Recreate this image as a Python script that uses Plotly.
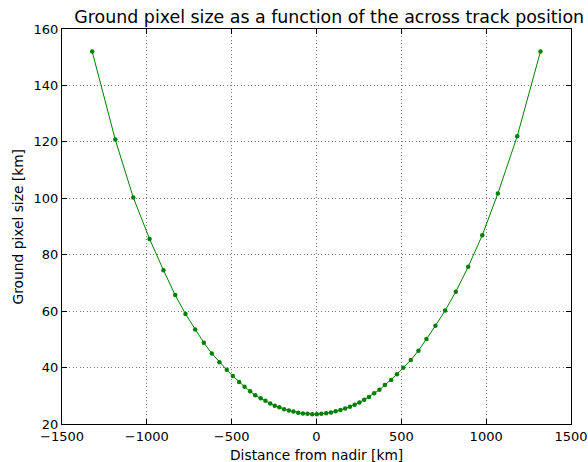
import plotly.graph_objects as go

# Across-track distance from nadir [km]
distance_km = [-1322, -1186, -1080, -984, -902, -833, -772, -715, -664, -617,
               -572, -529, -493, -456, -424, -391, -361, -329, -301, -273,
               -246, -219, -191, -163, -136, -108, -80, -53, -25, 2,
               29, 57, 85, 113, 141, 169, 197, 225, 253, 281,
               309, 340, 371, 403, 440, 474, 511, 556, 601, 648,
               701, 758, 821, 894, 977, 1069, 1183, 1320]

# Ground pixel size [km]
pixel_size_km = [152.0, 120.8, 100.3, 85.6, 74.5, 65.7, 59.0, 53.5, 48.8, 45.0,
                 41.9, 39.2, 37.0, 34.9, 33.2, 31.6, 30.2, 29.1, 28.2, 27.3,
                 26.5, 25.9, 25.25, 24.8, 24.4, 24.0, 23.75, 23.6, 23.5, 23.5,
                 23.6, 23.8, 24.1, 24.5, 24.95, 25.45, 26.15, 26.8, 27.65, 28.6,
                 29.55, 30.9, 32.1, 33.8, 35.6, 37.6, 39.9, 42.7, 46.0, 50.1,
                 54.8, 60.2, 66.9, 75.7, 86.9, 101.7, 122.0, 152.0]

x_ticks = [-1500, -1000, -500, 0, 500, 1000, 1500]
y_ticks = [20, 40, 60, 80, 100, 120, 140, 160]

title_text = "Ground pixel size as a function of the across track position"
x_label = "Distance from nadir [km]"
y_label = "Ground pixel size [km]"

FONT = "DejaVu Sans"
TICK_SIZE = 13
LABEL_SIZE = 13.8
TITLE_SIZE = 17.4

fig = go.Figure()
fig.add_trace(go.Scatter(
    x=distance_km, y=pixel_size_km, mode="lines+markers",
    line=dict(color="#008000", width=1),
    marker=dict(color="#008000", size=4.5, line=dict(width=0)),
    showlegend=False,
))

axis_common = dict(
    showline=True, linecolor="black", linewidth=1, mirror="allticks",
    ticks="inside", ticklen=5, tickwidth=1, tickcolor="black",
    showgrid=True, gridcolor="#777777", griddash="1px,2.5px", gridwidth=1,
    zeroline=False, tickfont=dict(family=FONT, size=TICK_SIZE, color="black"),
)

fig.update_xaxes(range=[-1500, 1500], tickvals=x_ticks,
                 ticktext=[str(v).replace("-", "\u2212") for v in x_ticks],
                 **axis_common)
fig.update_yaxes(range=[20, 160], tickvals=y_ticks,
                 ticktext=[str(v) for v in y_ticks], **axis_common)

fig.update_layout(
    width=588, height=462,
    margin=dict(l=62, r=17, t=29, b=38, autoexpand=False),
    paper_bgcolor="white", plot_bgcolor="white",
    font=dict(family=FONT, color="black"),
    title=dict(text=title_text, x=0.525, xref="paper", xanchor="center",
               y=1 - 17 / 462, yref="container", yanchor="middle",
               font=dict(family=FONT, size=TITLE_SIZE, color="black")),
)
fig.add_annotation(text=x_label, xref="paper", yref="paper", x=0.5, y=0,
                   xanchor="center", yanchor="middle", yshift=-31,
                   showarrow=False, font=dict(family=FONT, size=LABEL_SIZE, color="black"))
fig.add_annotation(text=y_label, xref="paper", yref="paper", x=0, y=0.5,
                   xanchor="center", yanchor="middle", xshift=-45, textangle=-90,
                   showarrow=False, font=dict(family=FONT, size=LABEL_SIZE, color="black"))

fig.write_html("out.html", config={"displayModeBar": False},
               post_script="document.body.style.margin='0';document.body.style.overflow='hidden';")
